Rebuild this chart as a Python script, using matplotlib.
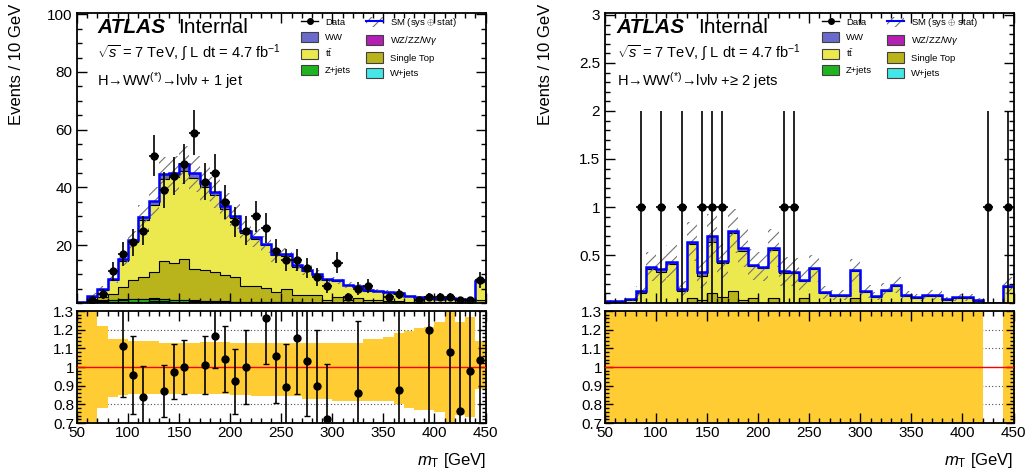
import numpy as np
import matplotlib.pyplot as plt
from matplotlib.patches import Patch
from matplotlib.lines import Line2D
from matplotlib.ticker import MultipleLocator, FixedLocator

plt.rcParams["font.family"] = ["Liberation Sans", "DejaVu Sans"]
plt.rcParams["mathtext.fontset"] = "custom"
plt.rcParams["mathtext.rm"] = "Liberation Sans"
plt.rcParams["mathtext.it"] = "Liberation Sans:italic"
plt.rcParams["mathtext.bf"] = "Liberation Sans:bold"
plt.rcParams["hatch.linewidth"] = 0.8

edges = np.arange(50, 451, 10)

# ---- H->WW + 1 jet ----
data_1j = [0, 1, 3, 11, 17, 21, 25, 51, 39, 44, 48, 59, 42, 45, 35, 28, 25, 30, 26, 18,
           15, 15, 12, 9, 6, 14, 2, 5, 6, 0, 2, 3, 0, 1, 2, 2, 2, 1, 1, 8]
wjets_1j = [0.0, 0.1, 0.2, 0.2, 0.3, 0.4, 0.5, 0.6, 0.6, 0.5, 0.5, 0.4, 0.3, 0.3, 0.2, 0.2,
            0.1, 0.1, 0.1, 0.1, 0.1, 0.1, 0.0, 0.0, 0.0, 0.0, 0.0, 0.0, 0.0, 0.0, 0.0, 0.0,
            0.0, 0.0, 0.0, 0.0, 0.0, 0.0, 0.0, 0.0]
zjets_1j = [0.0, 0.3, 0.6, 0.8, 0.9, 1.0, 0.8, 0.9, 0.7, 0.6, 0.5, 0.4, 0.4, 0.3, 0.3, 0.2,
            0.2, 0.2, 0.1, 0.1, 0.1, 0.1, 0.1, 0.1, 0.1, 0.0, 0.0, 0.0, 0.0, 0.0, 0.0, 0.0,
            0.0, 0.0, 0.0, 0.0, 0.0, 0.0, 0.0, 0.1]
vv_1j = [0.0, 0.0, 0.1, 0.1, 0.1, 0.1, 0.1, 0.1, 0.1, 0.1, 0.1, 0.1, 0.1, 0.1, 0.1, 0.1,
         0.1, 0.1, 0.1, 0.1, 0.1, 0.0, 0.0, 0.0, 0.0, 0.0, 0.0, 0.0, 0.0, 0.0, 0.0, 0.0,
         0.0, 0.0, 0.0, 0.0, 0.0, 0.0, 0.0, 0.0]
stop_1j = [0.2, 0.2, 1.1, 2.0, 4.1, 6.4, 7.7, 9.0, 13.2, 12.8, 14.3, 10.8, 10.7, 10.2, 9.2,
           8.4, 5.6, 5.6, 4.8, 3.6, 4.4, 2.6, 2.7, 2.7, 1.0, 2.0, 1.2, 1.7, 1.0, 0.9, 0.7,
           0.8, 0.5, 0.5, 0.4, 0.4, 0.3, 0.3, 0.2, 0.9]
ttbar_1j = [0.2, 1.6, 2.6, 4.8, 9.3, 13.2, 19.7, 23.5, 28.2, 29.8, 30.4, 31.6, 28.6, 26.4,
            22.7, 20.5, 18.2, 16.1, 14.9, 12.6, 11.6, 9.8, 8.4, 6.9, 6.9, 5.7, 4.9, 3.9,
            3.3, 3.1, 3.1, 2.53, 2.0, 1.6, 1.17, 0.95, 1.45, 0.91, 0.72, 6.4]
ww_1j = [0.0, 0.1, 0.2, 0.3, 0.6, 0.8, 1.0, 1.2, 2.0, 1.3, 2.2, 1.7, 1.4, 1.2, 1.0, 0.9,
         0.8, 0.7, 0.6, 0.5, 0.5, 0.4, 0.4, 0.3, 0.3, 0.3, 0.2, 0.2, 0.2, 0.2, 0.1, 0.1,
         0.1, 0.1, 0.1, 0.1, 0.1, 0.1, 0.1, 0.3]
# relative SM uncertainty (sys + stat), upward / downward
unc_up_1j = [0.5, 0.5, 0.22, 0.15, 0.15, 0.14, 0.14, 0.14, 0.13, 0.13, 0.13, 0.13, 0.135,
             0.135, 0.135, 0.13, 0.13, 0.13, 0.13, 0.13, 0.13, 0.13, 0.13, 0.13, 0.13,
             0.13, 0.13, 0.13, 0.15, 0.15, 0.16, 0.18, 0.195, 0.21, 0.215, 0.24, 0.5,
             0.24, 0.27, 0.14]
unc_dn_1j = [0.5, 0.5, 0.22, 0.16, 0.15, 0.147, 0.147, 0.147, 0.145, 0.145, 0.145, 0.145,
             0.145, 0.145, 0.145, 0.15, 0.15, 0.155, 0.155, 0.157, 0.157, 0.157, 0.17,
             0.17, 0.17, 0.18, 0.18, 0.18, 0.18, 0.18, 0.18, 0.2, 0.22, 0.23, 0.23, 0.24,
             0.5, 0.255, 0.267, 0.12]

# ---- H->WW + >=2 jets ----
data_2j = [0, 0, 0, 1, 0, 1, 0, 1, 0, 1, 1, 1, 0, 0, 0, 0, 0, 1, 1, 0,
           0, 0, 0, 0, 0, 0, 0, 0, 0, 0, 0, 0, 0, 0, 0, 0, 0, 1, 0, 1]
wjets_2j = [0.0] * 40
zjets_2j = [0.0] * 40
vv_2j = [0.0] * 40
stop_2j = [0.0, 0.0, 0.0, 0.0, 0.0, 0.0, 0.0, 0.0, 0.05, 0.03, 0.10, 0.06, 0.12, 0.03, 0.05,
           0.0, 0.05, 0.0, 0.0, 0.05, 0.0, 0.0, 0.0, 0.0, 0.05, 0.0, 0.0, 0.0, 0.0, 0.0,
           0.0, 0.0, 0.0, 0.0, 0.0, 0.0, 0.0, 0.0, 0.0, 0.0]
ttbar_2j = [0.01, 0.01, 0.03, 0.10, 0.35, 0.32, 0.41, 0.13, 0.56, 0.25, 0.54, 0.36, 0.61,
            0.51, 0.34, 0.36, 0.50, 0.31, 0.31, 0.18, 0.35, 0.10, 0.075, 0.075, 0.28, 0.11,
            0.06, 0.13, 0.18, 0.07, 0.05, 0.075, 0.075, 0.03, 0.05, 0.05, 0.02, 0.0, 0.0,
            0.17]
ww_2j = [0.01, 0.01, 0.01, 0.02, 0.03, 0.03, 0.02, 0.02, 0.03, 0.04, 0.06, 0.02, 0.02, 0.03,
         0.01, 0.02, 0.02, 0.02, 0.01, 0.01, 0.01, 0.01, 0.01, 0.01, 0.01, 0.01, 0.01, 0.01,
         0.01, 0.01, 0.01, 0.01, 0.01, 0.01, 0.01, 0.01, 0.01, 0.0, 0.0, 0.01]
unc_2j = [0.6, 0.6, 0.6, 0.5, 0.4, 0.4, 0.4, 0.5, 0.32, 0.5, 0.33, 0.4, 0.3, 0.35, 0.4, 0.4,
          0.35, 0.45, 0.45, 0.5, 0.4, 0.6, 0.6, 0.6, 0.35, 0.6, 0.6, 0.5, 0.45, 0.6, 0.6,
          0.6, 0.6, 0.6, 0.6, 0.6, 0.6, 0.0, 0.0, 0.5]

# stack order, bottom to top
stack_colors = ["#44e6e6", "#1fb41f", "#b41fb4", "#b9b41c", "#ece94f", "#6a6acc"]
legend_labels = ["Data", "WW", r"t$\bar{\mathrm{t}}$", "Z+jets",
                 r"SM (sys $\oplus$ stat)", r"WZ/ZZ/W$\gamma$", "Single Top", "W+jets"]

fig = plt.figure(figsize=(10.3, 4.76), dpi=100)


def style_axes(ax, minor_x=10, major_len=7, minor_len=3.5):
    ax.set_xlim(50, 450)
    ax.xaxis.set_major_locator(MultipleLocator(50))
    ax.xaxis.set_minor_locator(MultipleLocator(minor_x))
    ax.tick_params(which="both", direction="in", top=True, right=True, labelsize=11)
    ax.tick_params(which="major", length=major_len, width=1.0)
    ax.tick_params(which="minor", length=minor_len, width=1.0)
    for s in ax.spines.values():
        s.set_linewidth(1.3)


def panel(x0, comps, data, up, dn, yticks, yminor, ymax, legend_x, txt_x, int_x, jets):
    ax = fig.add_axes([x0, 0.3634, 0.3966, 0.6092])
    rax = fig.add_axes([x0, 0.1113, 0.3966, 0.2353])

    comps = np.array(comps, dtype=float)
    data = np.array(data, dtype=float)
    up = np.array(up)
    dn = np.array(dn)
    cum = np.cumsum(comps, axis=0)
    total = cum[-1]
    centers = edges[:-1] + 5

    # stacked backgrounds, drawn from the full stack downwards
    for top, c in reversed(list(zip(cum, stack_colors))):
        ax.stairs(top, edges, baseline=0, fill=True, facecolor=c,
                  edgecolor="black", lw=0.8)
    ax.stairs(total * (1 + up), edges, baseline=total * (1 - dn), fill=True,
              facecolor="none", edgecolor="0.45", hatch="///", lw=0)
    ax.stairs(total, edges, color="#0000ff", lw=1.8)

    m = data > 0
    ax.errorbar(centers[m], data[m], yerr=np.sqrt(data[m]), xerr=5, fmt="o",
                color="black", ms=5, lw=1.2, capsize=0, zorder=5)

    style_axes(ax)
    ax.set_ylim(0, ymax)
    ax.yaxis.set_major_locator(FixedLocator(yticks))
    ax.yaxis.set_minor_locator(MultipleLocator(yminor))
    ax.set_yticklabels([("%g" % t) for t in yticks])
    ax.tick_params(labelbottom=False)

    ax.text(txt_x, 0.931, "ATLAS", transform=ax.transAxes, fontsize=15,
            fontweight="bold", fontstyle="italic", va="baseline")
    ax.text(int_x, 0.931, "Internal", transform=ax.transAxes, fontsize=15,
            va="baseline")
    ax.text(txt_x, 0.848, r"$\sqrt{s}$ = 7 TeV, $\int$ L dt = 4.7 fb$^{-1}$",
            transform=ax.transAxes, fontsize=10.5, va="baseline")
    ax.text(txt_x, 0.748, "H\u2192WW$^{(*)}$\u2192l\u03bdl\u03bd " + jets,
            transform=ax.transAxes, fontsize=10.5, va="baseline")

    handles = [
        Line2D([], [], color="black", marker="o", ms=4, lw=1),
        Patch(facecolor=stack_colors[5], edgecolor="0.25", lw=0.8),
        Patch(facecolor=stack_colors[4], edgecolor="0.25", lw=0.8),
        Patch(facecolor=stack_colors[1], edgecolor="0.25", lw=0.8),
        (Patch(facecolor="none", edgecolor="0.45", hatch="///", lw=0),
         Line2D([], [], color="#0000ff", lw=1.5)),
        Patch(facecolor=stack_colors[2], edgecolor="0.25", lw=0.8),
        Patch(facecolor=stack_colors[3], edgecolor="0.25", lw=0.8),
        Patch(facecolor=stack_colors[0], edgecolor="0.25", lw=0.8),
    ]
    ax.legend(handles, legend_labels, ncol=2, loc="upper left",
              bbox_to_anchor=(legend_x, 0.99), frameon=False, fontsize=6.8,
              handlelength=1.8, handleheight=1.3, labelspacing=0.55,
              columnspacing=1.6, handletextpad=0.7, borderpad=0, borderaxespad=0)

    # ratio panel
    for v in (0.8, 0.9, 1.1, 1.2):
        rax.axhline(v, color="0.3", ls=(0, (1, 2)), lw=0.8, zorder=0.5)
    has_mc = total > 0
    rax.stairs(np.where(has_mc, 1 + up, 1), edges,
               baseline=np.where(has_mc, 1 - dn, 1), fill=True,
               facecolor="#ffcc33", lw=0, zorder=1)
    rax.axhline(1.0, color="red", lw=1.0, zorder=3)
    ratio = np.full_like(total, np.nan)
    ratio[has_mc] = data[has_mc] / total[has_mc]
    show = m & has_mc & (ratio >= 0.7) & (ratio <= 1.3)
    rax.errorbar(centers[show], ratio[show],
                 yerr=np.sqrt(data[show]) / total[show], fmt="o", color="black",
                 ms=5, lw=1.2, capsize=2, zorder=5)
    style_axes(rax, major_len=7, minor_len=3.5)
    rax.set_ylim(0.7, 1.3)
    rax.yaxis.set_major_locator(FixedLocator([0.7, 0.8, 0.9, 1.0, 1.1, 1.2, 1.3]))
    rax.yaxis.set_minor_locator(MultipleLocator(0.02))
    rax.set_yticklabels(["0.7", "0.8", "0.9", "1", "1.1", "1.2", "1.3"])
    rax.tick_params(axis="y", which="major", length=6)
    rax.tick_params(axis="y", which="minor", length=3)
    rax.tick_params(axis="both", which="major", pad=2)
    return ax, rax


ax1, rax1 = panel(0.0748, [wjets_1j, zjets_1j, vv_1j, stop_1j, ttbar_1j, ww_1j],
                  data_1j, unc_up_1j, unc_dn_1j, [20, 40, 60, 80, 100], 5, 100.4,
                  0.549, 0.049, 0.247, "+ 1 jet")
ax2, rax2 = panel(0.5874, [wjets_2j, zjets_2j, vv_2j, stop_2j, ttbar_2j, ww_2j],
                  data_2j, unc_2j, unc_2j, [0.5, 1, 1.5, 2, 2.5, 3], 0.1, 3.02,
                  0.532, 0.029, 0.228, "+\u2265 2 jets")

for xl, xr in ((17, 486), (546, 1013)):
    fig.text(xl / 1030, 1 - 4 / 476, "Events / 10 GeV", rotation=90, fontsize=12,
             ha="center", va="top")
    fig.text(xr / 1030, 11 / 476, r"$m_{\mathrm{T}}$ [GeV]", fontsize=12,
             ha="right", va="baseline")

fig.savefig("out.png", dpi=100)
